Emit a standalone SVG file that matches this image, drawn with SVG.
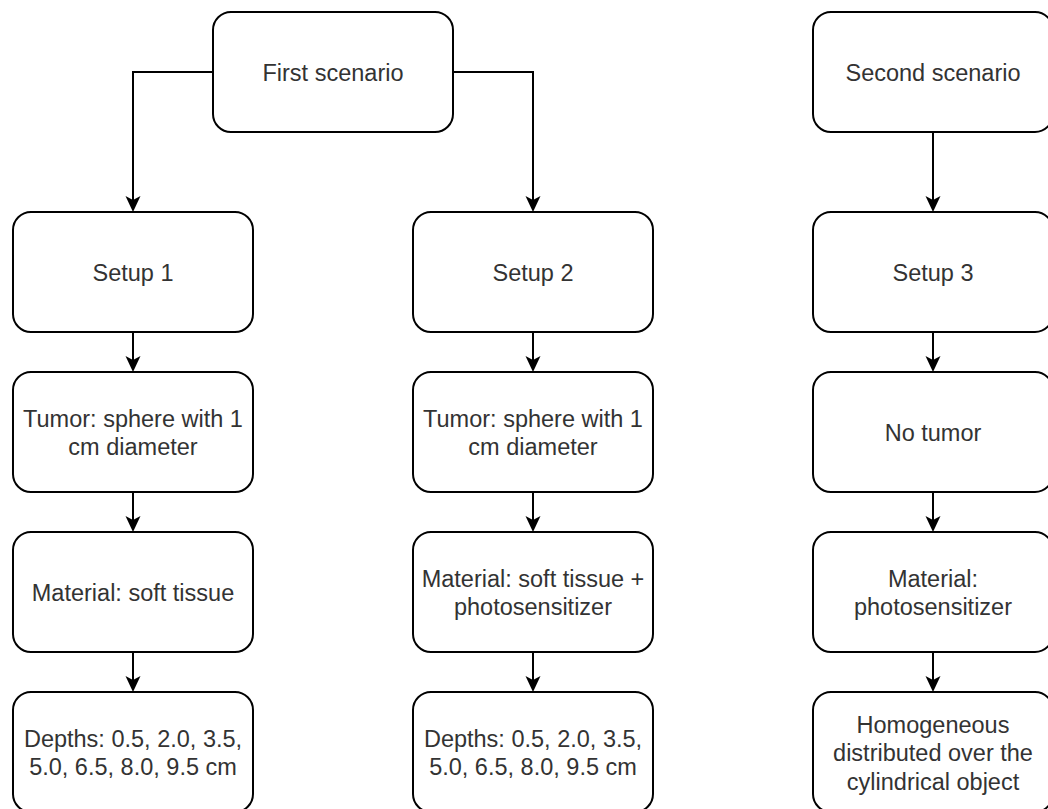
<svg xmlns="http://www.w3.org/2000/svg" width="1048" height="809" viewBox="0 0 1048 809">
<style>
.box{fill:#ffffff;stroke:#000000;stroke-width:2}
.lbl{font-family:"Liberation Sans",Arial,sans-serif;font-size:23.5px;fill:#333333;text-anchor:middle}
.edge{fill:none;stroke:#000000;stroke-width:2;marker-end:url(#arr)}
</style>
<defs>
<marker id="arr" markerUnits="userSpaceOnUse" markerWidth="17" markerHeight="16" refX="12" refY="7.5" orient="auto">
<path d="M0,0 L16,7.5 L0,15 L4,7.5 Z" fill="#000000"/>
</marker>
</defs>
<rect width="1048" height="809" fill="#ffffff"/>
<g id="connectors">
<path class="edge" d="M213,72 H133 V208"/>
<path class="edge" d="M453,72 H533 V208"/>
<path class="edge" d="M933,132 V208"/>
<path class="edge" d="M133,332 V368"/>
<path class="edge" d="M533,332 V368"/>
<path class="edge" d="M933,332 V368"/>
<path class="edge" d="M133,492 V528"/>
<path class="edge" d="M533,492 V528"/>
<path class="edge" d="M933,492 V528"/>
<path class="edge" d="M133,652 V688"/>
<path class="edge" d="M533,652 V688"/>
<path class="edge" d="M933,652 V688"/>
</g>
<g id="first-scenario"><rect class="box" x="213" y="12" width="240" height="120" rx="18"/><text class="lbl" x="333" y="80.5">First scenario</text></g>
<g id="second-scenario"><rect class="box" x="813" y="12" width="240" height="120" rx="18"/><text class="lbl" x="933" y="80.5">Second scenario</text></g>
<g id="setup1"><rect class="box" x="13" y="212" width="240" height="120" rx="18"/><text class="lbl" x="133" y="280.5">Setup 1</text></g>
<g id="setup2"><rect class="box" x="413" y="212" width="240" height="120" rx="18"/><text class="lbl" x="533" y="280.5">Setup 2</text></g>
<g id="setup3"><rect class="box" x="813" y="212" width="240" height="120" rx="18"/><text class="lbl" x="933" y="280.5">Setup 3</text></g>
<g id="tumor1"><rect class="box" x="13" y="372" width="240" height="120" rx="18"/><text class="lbl" x="133" y="426.5">Tumor: sphere with 1</text><text class="lbl" x="133" y="455">cm diameter</text></g>
<g id="tumor2"><rect class="box" x="413" y="372" width="240" height="120" rx="18"/><text class="lbl" x="533" y="426.5">Tumor: sphere with 1</text><text class="lbl" x="533" y="455">cm diameter</text></g>
<g id="tumor3"><rect class="box" x="813" y="372" width="240" height="120" rx="18"/><text class="lbl" x="933" y="440.5">No tumor</text></g>
<g id="material1"><rect class="box" x="13" y="532" width="240" height="120" rx="18"/><text class="lbl" x="133" y="600.5">Material: soft tissue</text></g>
<g id="material2"><rect class="box" x="413" y="532" width="240" height="120" rx="18"/><text class="lbl" x="533" y="586.5">Material: soft tissue +</text><text class="lbl" x="533" y="615">photosensitizer</text></g>
<g id="material3"><rect class="box" x="813" y="532" width="240" height="120" rx="18"/><text class="lbl" x="933" y="586.5">Material:</text><text class="lbl" x="933" y="615">photosensitizer</text></g>
<g id="depths1"><rect class="box" x="13" y="692" width="240" height="120" rx="18"/><text class="lbl" x="133" y="746.5">Depths: 0.5, 2.0, 3.5,</text><text class="lbl" x="133" y="775">5.0, 6.5, 8.0, 9.5 cm</text></g>
<g id="depths2"><rect class="box" x="413" y="692" width="240" height="120" rx="18"/><text class="lbl" x="533" y="746.5">Depths: 0.5, 2.0, 3.5,</text><text class="lbl" x="533" y="775">5.0, 6.5, 8.0, 9.5 cm</text></g>
<g id="distribution3"><rect class="box" x="813" y="692" width="240" height="120" rx="18"/><text class="lbl" x="933" y="732.5">Homogeneous</text><text class="lbl" x="933" y="761">distributed over the</text><text class="lbl" x="933" y="789.5">cylindrical object</text></g>
</svg>
